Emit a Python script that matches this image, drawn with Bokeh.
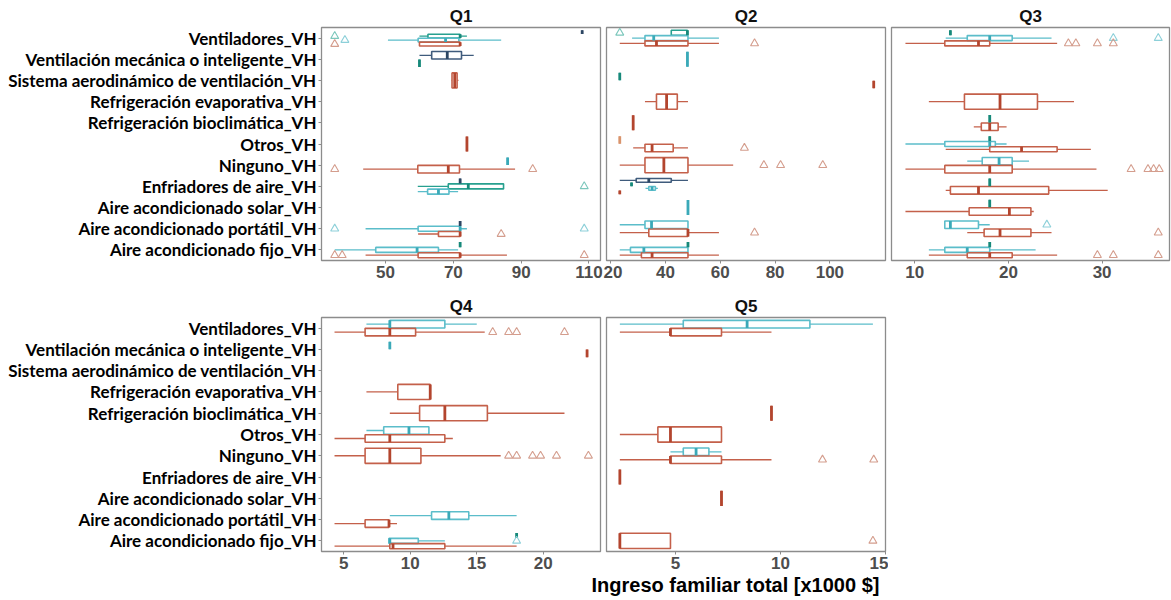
from bokeh.plotting import figure
from bokeh.layouts import row, column
from bokeh.models import ColumnDataSource, Range1d, FixedTicker, Label
from bokeh.embed import file_html
from bokeh.resources import INLINE

# ---------------- data ----------------
CATEGORIES = [
    "Ventiladores_VH",
    "Ventilación mecánica o inteligente_VH",
    "Sistema aerodinámico de ventilación_VH",
    "Refrigeración evaporativa_VH",
    "Refrigeración bioclimática_VH",
    "Otros_VH",
    "Ninguno_VH",
    "Enfriadores de aire_VH",
    "Aire acondicionado solar_VH",
    "Aire acondicionado portátil_VH",
    "Aire acondicionado fijo_VH",
]
CAT_KEYS = ["VEN", "VMI", "SAV", "REV", "RBC", "OTR", "NIN", "ENF", "AAS", "AAP", "AAF"]

# dodge order (top to bottom inside one category row)
SERIES_ORDER = ["S1", "S2", "S3", "S5", "S4"]
SERIES_LINE = {"S1": "#3f5b7c", "S2": "#27a08f", "S3": "#5bbdca", "S5": "#e2a884", "S4": "#c4604a"}
SERIES_MED = {"S1": "#2c4663", "S2": "#17897a", "S3": "#3aa9b8", "S5": "#d9946c", "S4": "#b3452e"}
SERIES_OUT = {"S1": "#8ea2b8", "S2": "#7cc7bc", "S3": "#8dd0d9", "S5": "#e8bfa5", "S4": "#d49d8d"}

# (category, series, lower whisker, q1, median, q3, upper whisker, outliers)
Q1_BOXES = [
    ("VEN", "S1", 108, 108, 108, 108, 108, []),
    ("VEN", "S2", 60, 62.5, 72, 72, 74, [35]),
    ("VEN", "S3", 50.7, 59.6, 67.7, 71.6, 84.1, [38]),
    ("VEN", "S4", 60, 60, 72, 72, 72, [35]),
    ("VMI", "S1", 60, 63.6, 68.2, 72.4, 76, []),
    ("VMI", "S2", 60, 60, 60, 60, 60, []),
    ("SAV", "S4", 69.5, 69.6, 70.4, 71.1, 71.5, []),
    ("OTR", "S4", 74, 74, 74, 74, 74, []),
    ("NIN", "S3", 86, 86, 86, 86, 86, []),
    ("NIN", "S4", 43.4, 59.5, 68.5, 71.8, 88.2, [35, 93.4]),
    ("ENF", "S1", 72, 72, 72, 72, 72, []),
    ("ENF", "S2", 59.5, 68.5, 74.4, 84.8, 84.8, [108.6]),
    ("ENF", "S3", 59.5, 62.4, 65.6, 68.7, 71.4, []),
    ("AAP", "S1", 72, 72, 72, 72, 72, []),
    ("AAP", "S3", 44.1, 59.6, 72, 72, 74, [35, 108.6]),
    ("AAP", "S4", 59.6, 65.6, 72, 72, 72, [84.1]),
    ("AAF", "S2", 72, 72, 72, 72, 72, []),
    ("AAF", "S3", 35, 47.1, 59.3, 65.6, 71.4, []),
    ("AAF", "S4", 44.1, 59.6, 72, 72, 85.8, [35, 37.2, 108.6]),
]
Q2_BOXES = [
    ("VEN", "S2", 42.1, 42.1, 48, 48, 48, [23.3]),
    ("VEN", "S3", 27.8, 32.5, 35.7, 48.2, 59.5, []),
    ("VEN", "S4", 23.3, 32.5, 36.7, 48.2, 59.5, [72.5]),
    ("VMI", "S3", 48, 48, 48, 48, 48, []),
    ("SAV", "S2", 23.3, 23.3, 23.3, 23.3, 23.3, []),
    ("SAV", "S4", 116, 116, 116, 116, 116, []),
    ("REV", "S4", 32.5, 36.7, 40.4, 44.3, 48.2, []),
    ("RBC", "S4", 28.2, 28.2, 28.2, 28.2, 28.2, []),
    ("OTR", "S5", 23.3, 23.3, 23.3, 23.3, 23.3, []),
    ("OTR", "S4", 28.2, 32.5, 35.1, 42.8, 48.2, [68.8]),
    ("NIN", "S4", 23.3, 32.5, 39.4, 48.2, 64.7, [75.9, 82, 97.4]),
    ("ENF", "S1", 23.3, 29.3, 33.9, 42.1, 48.2, []),
    ("ENF", "S2", 27.6, 27.6, 27.6, 27.6, 27.6, []),
    ("ENF", "S3", 32.7, 33.9, 35.1, 36.3, 37.2, []),
    ("ENF", "S4", 23.3, 23.3, 23.3, 23.3, 23.3, []),
    ("AAS", "S3", 48.2, 48.2, 48.2, 48.2, 48.2, []),
    ("AAP", "S3", 23.3, 32.5, 34.9, 48.2, 48.2, []),
    ("AAP", "S4", 23.3, 33.9, 48.2, 48.2, 59.5, [72.5]),
    ("AAF", "S2", 48.2, 48.2, 48.2, 48.2, 48.2, []),
    ("AAF", "S3", 23.3, 27.2, 32.1, 48.2, 48.2, []),
    ("AAF", "S4", 23.3, 31.2, 35.1, 48.2, 59.5, []),
]
Q3_BOXES = [
    ("VEN", "S2", 13.8, 13.8, 13.8, 13.8, 13.8, []),
    ("VEN", "S3", 13.3, 15.6, 18.0, 20.4, 24.6, [31.2, 36.0]),
    ("VEN", "S4", 9.0, 13.2, 16.8, 18.0, 25.2, [26.4, 27.2, 29.5, 31.2]),
    ("REV", "S4", 11.5, 15.3, 19.1, 23.1, 27.0, []),
    ("RBC", "S2", 18.0, 18.0, 18.0, 18.0, 18.0, []),
    ("RBC", "S4", 16.3, 17.1, 18.0, 18.9, 19.8, []),
    ("OTR", "S2", 18.0, 18.0, 18.0, 18.0, 18.0, []),
    ("OTR", "S3", 9.0, 13.2, 18.0, 18.6, 19.8, []),
    ("OTR", "S4", 13.3, 18.0, 21.4, 25.2, 28.8, []),
    ("NIN", "S3", 15.6, 17.2, 19.0, 20.4, 22.2, []),
    ("NIN", "S4", 9.0, 13.2, 18.0, 20.4, 29.4, [33.1, 34.9, 35.5, 36.1]),
    ("ENF", "S2", 18.0, 18.0, 18.0, 18.0, 18.0, []),
    ("ENF", "S4", 13.3, 13.8, 16.8, 24.3, 30.6, []),
    ("AAS", "S2", 18.0, 18.0, 18.0, 18.0, 18.0, []),
    ("AAS", "S4", 9.0, 15.8, 20.1, 22.4, 22.7, []),
    ("AAP", "S3", 13.2, 13.2, 13.8, 16.8, 18.0, [24.1]),
    ("AAP", "S4", 15.6, 17.4, 19.1, 22.4, 24.6, [36.0]),
    ("AAF", "S2", 18.0, 18.0, 18.0, 18.0, 18.0, []),
    ("AAF", "S3", 11.5, 13.2, 15.6, 18.0, 22.9, []),
    ("AAF", "S4", 11.5, 15.6, 18.0, 20.4, 25.2, [29.5, 31.2, 36.0]),
]
Q4_BOXES = [
    ("VEN", "S3", 6.7, 8.46, 8.46, 12.6, 15.0, []),
    ("VEN", "S4", 4.3, 6.6, 8.46, 10.4, 15.6, [16.2, 17.4, 18.0, 21.6]),
    ("VMI", "S3", 8.46, 8.46, 8.46, 8.46, 8.46, []),
    ("VMI", "S4", 23.3, 23.3, 23.3, 23.3, 23.3, []),
    ("REV", "S4", 6.7, 9.06, 11.5, 11.5, 11.5, []),
    ("RBC", "S4", 8.46, 10.7, 12.6, 15.8, 21.6, []),
    ("OTR", "S3", 6.7, 8.0, 9.9, 11.4, 11.4, []),
    ("OTR", "S4", 4.3, 6.6, 8.46, 12.6, 13.2, []),
    ("NIN", "S4", 4.3, 6.6, 8.46, 10.8, 16.8, [17.4, 18.0, 19.2, 19.8, 21.0, 23.4]),
    ("AAP", "S3", 8.46, 11.6, 12.9, 14.4, 18.0, []),
    ("AAP", "S4", 4.3, 6.6, 8.4, 8.4, 9.0, []),
    ("AAF", "S2", 18.0, 18.0, 18.0, 18.0, 18.0, []),
    ("AAF", "S3", 8.4, 8.4, 8.46, 10.6, 12.6, [18.0]),
    ("AAF", "S4", 4.3, 8.46, 8.7, 12.6, 18.0, []),
]
Q5_BOXES = [
    ("VEN", "S3", 2.35, 5.37, 8.41, 11.4, 14.4, []),
    ("VEN", "S4", 2.35, 4.76, 4.76, 7.19, 9.57, []),
    ("RBC", "S4", 9.57, 9.57, 9.57, 9.57, 9.57, []),
    ("OTR", "S4", 2.35, 4.16, 4.76, 7.19, 7.19, []),
    ("NIN", "S3", 4.76, 5.37, 5.98, 6.59, 7.19, []),
    ("NIN", "S4", 2.35, 4.76, 4.76, 7.19, 9.57, [12.0, 14.44]),
    ("ENF", "S4", 2.35, 2.35, 2.35, 2.35, 2.35, []),
    ("AAS", "S4", 7.19, 7.19, 7.19, 7.19, 7.19, []),
    ("AAF", "S4", 2.35, 2.35, 2.35, 4.76, 4.76, [14.4]),
]

PANEL_TITLES = ["Q1", "Q2", "Q3", "Q4", "Q5"]
Q1_TICKS = [50, 70, 90, 110]
Q2_TICKS = [20, 40, 60, 80, 100]
Q3_TICKS = [10, 20, 30]
Q4_TICKS = [5, 10, 15, 20]
Q5_TICKS = [5, 10, 15]
X_LABEL = "Ingreso familiar total [x1000 $]"

# axis limits (ggplot expanded ranges)
Q1_LIM = (31.1, 113.4)
Q2_LIM = (18.46, 120.3)
Q3_LIM = (7.51, 37.2)
Q4_LIM = (3.32, 24.31)
Q5_LIM = (1.714, 15.0)

DODGE_WIDTH = 0.75
N_CAT = len(CATEGORIES)


def build_sources(records):
    base_y = {k: N_CAT - 1 - i for i, k in enumerate(CAT_KEYS)}
    by_cat = {}
    for r in records:
        by_cat.setdefault(r[0], []).append(r)
    box = dict(y=[], top=[], bottom=[], lw=[], q1=[], med=[], q3=[], uw=[], line=[], medc=[])
    out = dict(x=[], y=[], color=[])
    for cat, recs in by_cat.items():
        recs = sorted(recs, key=lambda r: SERIES_ORDER.index(r[1]))
        n = len(recs)
        slot = DODGE_WIDTH / n
        for i, r in enumerate(recs):
            _, s, lw, q1, med, q3, uw, outs = r
            y = base_y[cat] + ((n - 1) / 2 - i) * slot
            h = slot * 0.95
            box["y"].append(y)
            box["top"].append(y + h / 2)
            box["bottom"].append(y - h / 2)
            box["lw"].append(lw)
            box["q1"].append(q1)
            box["med"].append(med)
            box["q3"].append(q3)
            box["uw"].append(uw)
            box["line"].append(SERIES_LINE[s])
            box["medc"].append(SERIES_MED[s])
            for o in outs:
                out["x"].append(o)
                out["y"].append(y)
                out["color"].append(SERIES_OUT[s])
    return ColumnDataSource(box), ColumnDataSource(out)


def make_panel(title, records, lim, ticks, show_y, frame_w, frame_h,
               left_b, right_b, bottom_b):
    p = figure(frame_width=frame_w, frame_height=frame_h,
               x_range=Range1d(*lim), y_range=Range1d(-0.5, N_CAT - 0.5),
               output_backend="svg", toolbar_location=None,
               min_border_left=left_b, min_border_right=right_b,
               min_border_top=27, min_border_bottom=bottom_b,
               background_fill_color="white", border_fill_color="white")
    p.title.text = title
    p.title.align = "center"
    p.title.text_font = "Liberation Sans"
    p.title.text_font_size = "17px"
    p.title.text_font_style = "bold"
    p.title.text_color = "#111111"
    p.title.standoff = 4
    p.xgrid.visible = False
    p.ygrid.visible = False
    p.outline_line_color = "#8c8c8c"
    p.outline_line_width = 1.3

    xa = p.xaxis[0]
    xa.ticker = FixedTicker(ticks=ticks)
    xa.axis_line_color = None
    xa.major_tick_in = 0
    xa.major_tick_out = 3
    xa.major_tick_line_color = "#8c8c8c"
    xa.minor_tick_line_color = None
    xa.major_label_text_font = "Liberation Sans"
    xa.major_label_text_font_size = "17px"
    xa.major_label_text_font_style = "bold"
    xa.major_label_text_color = "#4d4d4d"
    xa.major_label_standoff = 2

    ya = p.yaxis[0]
    if show_y:
        ya.ticker = FixedTicker(ticks=list(range(N_CAT)))
        ya.major_label_overrides = {N_CAT - 1 - i: c for i, c in enumerate(CATEGORIES)}
        ya.axis_line_color = None
        ya.major_tick_in = 0
        ya.major_tick_out = 3
        ya.major_tick_line_color = "#8c8c8c"
        ya.minor_tick_line_color = None
        ya.major_label_text_font = "Lato"
        ya.major_label_text_font_size = "17px"
        ya.major_label_text_font_style = "bold"
        ya.major_label_text_color = "#000000"
        ya.major_label_standoff = 2
    else:
        ya.visible = False

    bsrc, osrc = build_sources(records)
    p.segment(x0="lw", y0="y", x1="q1", y1="y", line_color="line", line_width=1.3, source=bsrc)
    p.segment(x0="q3", y0="y", x1="uw", y1="y", line_color="line", line_width=1.3, source=bsrc)
    p.quad(left="q1", right="q3", bottom="bottom", top="top", fill_color=None,
           line_color="line", line_width=1.6, source=bsrc)
    p.segment(x0="med", y0="bottom", x1="med", y1="top", line_color="medc", line_width=2.8, source=bsrc)
    p.scatter(x="x", y="y", marker="triangle", size=8, fill_color=None,
              line_color="color", line_width=1.1, source=osrc)
    return p


p1 = make_panel(PANEL_TITLES[0], Q1_BOXES, Q1_LIM, Q1_TICKS, True, 279, 233, 321, 3, 30)
p2 = make_panel(PANEL_TITLES[1], Q2_BOXES, Q2_LIM, Q2_TICKS, False, 279, 233, 3, 3, 30)
p3 = make_panel(PANEL_TITLES[2], Q3_BOXES, Q3_LIM, Q3_TICKS, False, 278, 233, 3, 2, 30)
p4 = make_panel(PANEL_TITLES[3], Q4_BOXES, Q4_LIM, Q4_TICKS, True, 279, 234, 321, 3, 24)
p5 = make_panel(PANEL_TITLES[4], Q5_BOXES, Q5_LIM, Q5_TICKS, False, 279, 234, 3, 3, 24)

# shared x-axis title strip (spans the whole width, like the facet-wide axis title)
LABEL_H = 25
lab = figure(width=1171, height=LABEL_H, x_range=Range1d(0, 1171), y_range=Range1d(0, LABEL_H),
             x_axis_type=None, y_axis_type=None, min_border=0,
             output_backend="svg", toolbar_location=None,
             background_fill_color="white", border_fill_color="white")
lab.outline_line_color = None
lab.xgrid.visible = False
lab.ygrid.visible = False
lab.add_layout(Label(x=735, y=LABEL_H - 9, text=X_LABEL, text_align="center", text_baseline="middle",
                     text_font="Liberation Sans", text_font_size="20px", text_font_style="bold",
                     text_color="#000000"))

layout = column(row(p1, p2, p3), row(p4, p5), lab)

with open("out.html", "w") as f:
    f.write(file_html(layout, INLINE))
